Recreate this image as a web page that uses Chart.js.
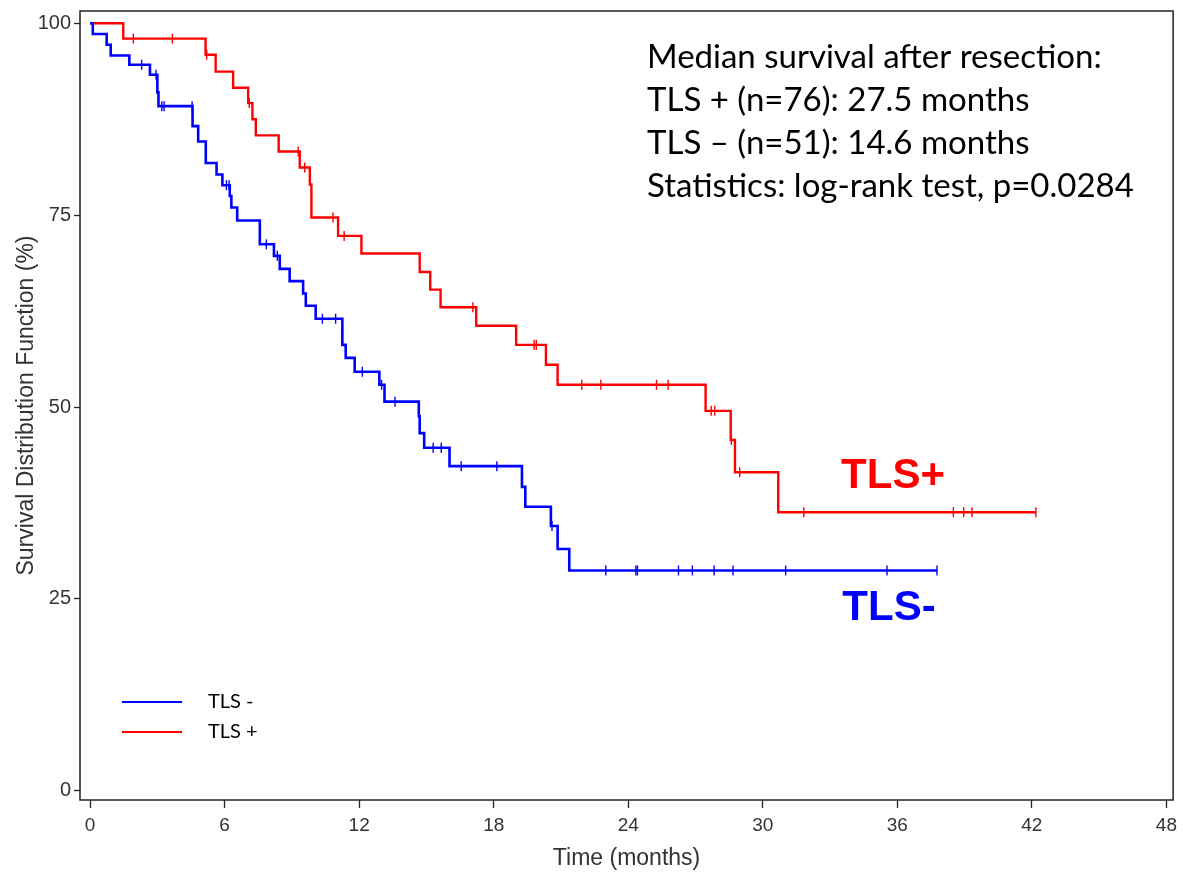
<!DOCTYPE html>
<html>
<head>
<meta charset="utf-8">
<script src="https://cdn.jsdelivr.net/npm/chart.js@4.4.1/dist/chart.umd.min.js"></script>
<style>
  html, body { margin: 0; padding: 0; background: #fff; }
  canvas { display: block; }
</style>
</head>
<body>
<canvas id="kmChart" width="1183" height="873"></canvas>
<script>
// Kaplan-Meier steps (time in months, survival in %)
const plusTimes = [0, 1.48, 5.15, 5.6, 6.38, 7.05, 7.24, 7.39, 8.41, 9.35, 9.8, 9.87, 11.06, 12.1, 14.7, 15.17, 15.63, 17.22, 19.0, 20.33, 20.85, 27.45, 28.57, 28.76, 30.69, 42.18];
const plusSurv  = [100, 98.0, 95.9, 93.7, 91.6, 89.6, 87.5, 85.4, 83.3, 81.2, 79.0, 74.7, 72.3, 70.0, 67.6, 65.3, 63.0, 60.6, 58.1, 55.5, 52.9, 49.5, 45.7, 41.5, 36.3, 36.3];
const plusCensored = [1.93, 3.67, 5.2, 7.1, 9.28, 9.57, 10.83, 11.33, 17.07, 19.8, 19.9, 21.93, 22.78, 25.26, 25.78, 27.7, 27.86, 28.6, 28.97, 31.83, 38.5, 38.96, 39.33, 42.18];

const minusTimes = [0, 0.12, 0.74, 0.92, 1.75, 2.67, 3.0, 3.05, 4.57, 4.82, 5.16, 5.64, 5.9, 6.23, 6.3, 6.56, 7.57, 8.2, 8.46, 8.9, 9.5, 9.62, 10.06, 11.25, 11.4, 11.8, 12.9, 13.13, 14.66, 14.7, 14.9, 16.03, 19.26, 19.41, 20.55, 20.85, 21.37, 37.77];
const minusSurv  = [100, 98.6, 97.2, 95.8, 94.6, 93.3, 91.0, 89.2, 86.6, 84.6, 81.8, 80.3, 78.9, 77.5, 76.0, 74.3, 71.2, 69.7, 68.0, 66.4, 64.8, 63.2, 61.5, 58.1, 56.4, 54.6, 52.9, 50.7, 48.8, 46.6, 44.7, 42.3, 39.6, 37.0, 34.5, 31.5, 28.7, 28.7];
const minusCensored = [2.3, 2.94, 3.2, 3.3, 4.55, 6.08, 6.2, 7.86, 8.35, 10.36, 10.95, 12.14, 13.0, 13.6, 15.3, 15.66, 16.55, 18.14, 20.6, 23.0, 24.34, 24.41, 26.24, 26.86, 27.83, 28.67, 31.02, 35.54, 37.77];

const xTickValues = [0, 6, 12, 18, 24, 30, 36, 42, 48];
const yTickValues = [0, 25, 50, 75, 100];

const seriesLabels = ['TLS -', 'TLS +'];
const curveLabels = ['TLS-', 'TLS+'];
const noteLines = [
    'Median survival after resection:',
    'TLS + (n=76): 27.5 months',
    'TLS \u2013 (n=51): 14.6 months',
    'Statistics: log-rank test, p=0.0284'
];

const RED = '#ff0000';
const BLUE = '#0000ff';

// survival level at time t (last step at or before t)
function levelAt(times, surv, t) {
    let v = surv[0];
    for (let i = 0; i < times.length; i++) {
        if (times[i] <= t) v = surv[i];
    }
    return v;
}

function toPoints(times, values) {
    return times.map((t, i) => ({ x: t, y: values[i] }));
}

function censorPoints(times, surv, cens) {
    return cens.map(t => ({ x: t, y: levelAt(times, surv, t) }));
}

// frame, legend, text notes
const decorations = {
    id: 'decorations',
    afterDraw(chart) {
        const ctx = chart.ctx;
        const a = chart.chartArea;
        ctx.save();
        ctx.strokeStyle = '#222';
        ctx.lineWidth = 1.5;
        ctx.strokeRect(a.left, a.top, a.right - a.left, a.bottom - a.top);

        // legend, bottom left inside the plot
        const colors = [BLUE, RED];
        ctx.font = '20px Lato, "Open Sans", sans-serif';
        ctx.textBaseline = 'middle';
        ctx.fillStyle = '#000';
        seriesLabels.forEach((lab, i) => {
            const y = a.bottom - 98 + i * 30;
            ctx.strokeStyle = colors[i];
            ctx.lineWidth = 2;
            ctx.beginPath();
            ctx.moveTo(a.left + 42, y);
            ctx.lineTo(a.left + 102, y);
            ctx.stroke();
            ctx.fillText(lab, a.left + 128, y);
        });

        // big curve labels
        ctx.font = 'bold 42px "Liberation Sans", Arial, sans-serif';
        ctx.textAlign = 'center';
        ctx.fillStyle = RED;
        ctx.fillText(curveLabels[1], 893, 476);
        ctx.fillStyle = BLUE;
        ctx.fillText(curveLabels[0], 889, 608);

        // median survival note
        ctx.font = '33px Lato, "Open Sans", sans-serif';
        ctx.textAlign = 'left';
        ctx.fillStyle = '#000';
        noteLines.forEach((line, i) => {
            ctx.fillText(line, 647, 57 + i * 43);
        });
        ctx.restore();
    }
};

const ctx = document.getElementById('kmChart').getContext('2d');
new Chart(ctx, {
    type: 'line',
    data: {
        datasets: [
            {
                label: seriesLabels[0],
                data: toPoints(minusTimes, minusSurv),
                borderColor: BLUE,
                borderWidth: 2.6,
                stepped: true,
                pointRadius: 0,
                fill: false
            },
            {
                label: seriesLabels[1],
                data: toPoints(plusTimes, plusSurv),
                borderColor: RED,
                borderWidth: 2.4,
                stepped: true,
                pointRadius: 0,
                fill: false
            },
            {
                label: 'censored -',
                type: 'scatter',
                data: censorPoints(minusTimes, minusSurv, minusCensored),
                pointStyle: 'line',
                rotation: 90,
                radius: 5,
                borderColor: BLUE,
                borderWidth: 1.4,
                showLine: false
            },
            {
                label: 'censored +',
                type: 'scatter',
                data: censorPoints(plusTimes, plusSurv, plusCensored),
                pointStyle: 'line',
                rotation: 90,
                radius: 5,
                borderColor: RED,
                borderWidth: 1.4,
                showLine: false
            }
        ]
    },
    options: {
        responsive: false,
        animation: false,
        devicePixelRatio: 1,
        layout: { padding: { top: 0, right: 4, left: 0, bottom: 0 } },
        plugins: {
            legend: { display: false },
            tooltip: { enabled: false }
        },
        scales: {
            x: {
                type: 'linear',
                min: -0.45,
                max: 48.3,
                afterFit: s => { s.height = 73; },
                afterBuildTicks: s => { s.ticks = xTickValues.map(v => ({ value: v })); },
                border: { display: false },
                grid: { drawOnChartArea: false, tickLength: 8, color: '#222', tickWidth: 1.3 },
                ticks: {
                    padding: 6,
                    color: '#333',
                    maxRotation: 0,
                    font: { family: '"Liberation Sans Narrow", "Liberation Sans", Arial, sans-serif', size: 19 }
                },
                title: {
                    display: true,
                    text: 'Time (months)',
                    color: '#333',
                    padding: { top: 0, bottom: 1 },
                    font: { family: '"Liberation Sans Narrow", "Liberation Sans", Arial, sans-serif', size: 23 }
                }
            },
            y: {
                min: -1.2,
                max: 101.6,
                afterFit: s => { s.width = 80; },
                afterBuildTicks: s => { s.ticks = yTickValues.map(v => ({ value: v })); },
                border: { display: false },
                grid: { drawOnChartArea: false, tickLength: 6, color: '#222', tickWidth: 1.3 },
                ticks: {
                    padding: 3,
                    color: '#333',
                    font: { family: '"Liberation Sans", Arial, sans-serif', size: 20, lineHeight: 0.8 }
                },
                title: {
                    display: true,
                    text: 'Survival Distribution Function (%)',
                    color: '#333',
                    padding: { top: 13, bottom: 0 },
                    font: { family: '"Liberation Sans Narrow", "Liberation Sans", Arial, sans-serif', size: 23 }
                }
            }
        }
    },
    plugins: [decorations]
});
</script>
</body>
</html>
